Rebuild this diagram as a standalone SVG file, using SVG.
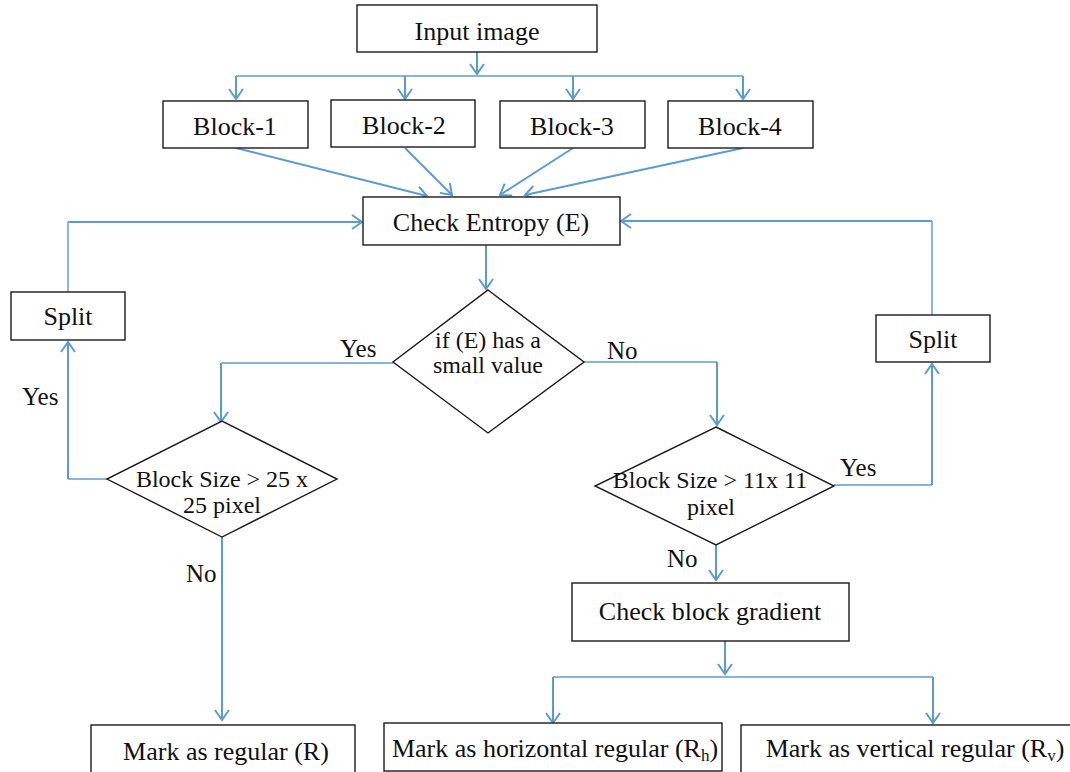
<svg xmlns="http://www.w3.org/2000/svg" width="1070" height="772" viewBox="0 0 1070 772">
<style>
.box{fill:#fff;stroke:#1a1a1a;stroke-width:1.4}
.t{font-family:"Liberation Serif","Times New Roman",serif;font-size:26px;fill:#111;text-anchor:middle}
.d{font-family:"Liberation Serif","Times New Roman",serif;font-size:24px;fill:#111;text-anchor:middle}
.lbl{font-family:"Liberation Serif","Times New Roman",serif;font-size:25px;fill:#111}
.c{fill:none;stroke:#5B9BD5;stroke-width:2}
.thin{fill:none;stroke:#5B9BD5;stroke-width:1.4}
.a{marker-end:url(#arr)}
</style>
<defs>
<marker id="arr" markerUnits="userSpaceOnUse" markerWidth="16" markerHeight="18" viewBox="-12 -9 14 18" refX="0" refY="0" orient="auto">
<path d="M-10,-7 L0,0 L-10,7" fill="none" stroke="#5B9BD5" stroke-width="2"/>
</marker>
</defs>
<rect width="1070" height="772" fill="#fff"/>
<g id="connectors">
<path class="c a" d="M477,52 V74"/>
<path class="thin" d="M236,76 H743"/>
<path class="c a" d="M236,76 V99"/>
<path class="c a" d="M405,76 V99"/>
<path class="c a" d="M573,76 V99"/>
<path class="c a" d="M743,76 V99"/>
<path class="c a" d="M236,148 L427,196"/>
<path class="c a" d="M405,148 L452,195"/>
<path class="c a" d="M573,148 L500,195"/>
<path class="c a" d="M743,148 L525,195"/>
<path class="c a" d="M486,245 V289"/>
<path class="thin" d="M393,363 H221"/>
<path class="c a" d="M221,363 V422"/>
<path class="thin" d="M584,362 H717"/>
<path class="c a" d="M717,362 V425"/>
<path class="thin" d="M107,479 H68"/>
<path class="c a" d="M68,479 V342"/>
<path class="thin" d="M68,292 V222"/>
<path class="c a" d="M68,222 H362"/>
<path class="thin" d="M834,485 H932"/>
<path class="c a" d="M932,485 V364"/>
<path class="thin" d="M932,315 V221"/>
<path class="c a" d="M932,221 H621"/>
<path class="c a" d="M222,537 V720"/>
<path class="c a" d="M716,545 V580"/>
<path class="c a" d="M725,641 V674"/>
<path class="thin" d="M553,677 H933"/>
<path class="c a" d="M553,677 V723"/>
<path class="c a" d="M933,677 V723"/>
</g>
<g id="input-image"><rect class="box" x="357" y="5" width="240" height="47"/><text class="t" x="477" y="40">Input image</text></g>
<g id="block-1"><rect class="box" x="163" y="101" width="145" height="47"/><text class="t" x="235" y="135">Block-1</text></g>
<g id="block-2"><rect class="box" x="331" y="100" width="144" height="47"/><text class="t" x="404" y="134">Block-2</text></g>
<g id="block-3"><rect class="box" x="500" y="101" width="145" height="47"/><text class="t" x="572" y="135">Block-3</text></g>
<g id="block-4"><rect class="box" x="668" y="101" width="145" height="47"/><text class="t" x="740" y="135">Block-4</text></g>
<g id="check-entropy"><rect class="box" x="363" y="197" width="257" height="48"/><text class="t" x="491" y="231">Check Entropy (E)</text></g>
<g id="split-left"><rect class="box" x="11" y="292" width="114" height="48"/><text class="t" x="68" y="325">Split</text></g>
<g id="split-right"><rect class="box" x="876" y="315" width="114" height="47"/><text class="t" x="933" y="348">Split</text></g>
<g id="decision-entropy"><polygon class="box" points="488,290 584,362 488,433 393,362"/><text class="d" x="488" y="348">if (E) has a</text><text class="d" x="488" y="373">small value</text></g>
<g id="decision-25"><polygon class="box" points="222,421 337,479 222,537 107,479"/><text class="d" x="222" y="487">Block Size &gt; 25 x</text><text class="d" x="222" y="513">25 pixel</text></g>
<g id="decision-11"><polygon class="box" points="716,427 834,486 716,545 595,486"/><text class="d" x="710" y="488">Block Size &gt; 11x 11</text><text class="d" x="711" y="515">pixel</text></g>
<g id="check-gradient"><rect class="box" x="572" y="583" width="277" height="58"/><text class="t" x="710" y="620">Check block gradient</text></g>
<g id="mark-regular"><rect class="box" x="91" y="725" width="264" height="60"/><text class="t" x="226" y="760">Mark as regular (R)</text></g>
<g id="mark-horizontal"><rect class="box" x="384" y="723" width="338" height="48"/><text class="t" x="555" y="757">Mark as horizontal regular (R<tspan font-size="17" dy="4">h</tspan><tspan dy="-4">)</tspan></text></g>
<g id="mark-vertical"><rect class="box" x="741" y="725" width="340" height="60"/><text class="t" x="915" y="757">Mark as vertical regular (R<tspan font-size="17" dy="4">v</tspan><tspan dy="-4">)</tspan></text></g>
<g id="labels">
<text class="lbl" x="340" y="357">Yes</text>
<text class="lbl" x="607" y="359">No</text>
<text class="lbl" x="22" y="405">Yes</text>
<text class="lbl" x="186" y="582">No</text>
<text class="lbl" x="840" y="476">Yes</text>
<text class="lbl" x="667" y="567">No</text>
</g>
</svg>
